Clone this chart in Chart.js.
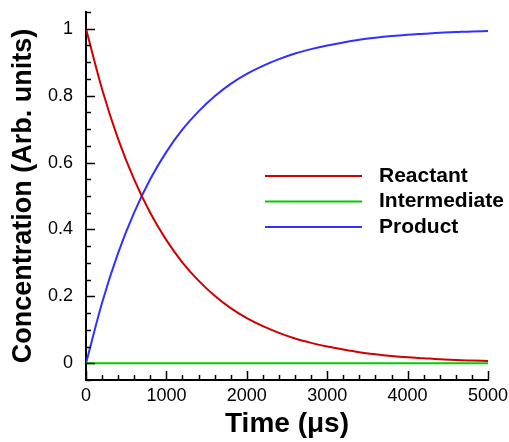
<!DOCTYPE html>
<html>
<head>
<meta charset="utf-8">
<script src="https://cdn.jsdelivr.net/npm/chart.js@4/dist/chart.umd.min.js"></script>
<style>
  body { margin: 0; background: #fff; }
  #wrap { width: 509px; height: 442px; }
</style>
</head>
<body>
<div id="wrap"><canvas id="kinetics" width="509" height="442"></canvas></div>
<script>
// time in microseconds, every 200 us
var times = [0, 200, 400, 600, 800, 1000, 1200, 1400, 1600, 1800, 2000, 2200, 2400,
             2600, 2800, 3000, 3200, 3400, 3600, 3800, 4000, 4200, 4400, 4600, 4800, 5000];
var reactant = [1.000, 0.819, 0.670, 0.549, 0.449, 0.368, 0.301, 0.247, 0.202, 0.165, 0.135, 0.111, 0.091,
                0.074, 0.061, 0.050, 0.041, 0.033, 0.027, 0.022, 0.018, 0.015, 0.012, 0.010, 0.008, 0.007];
var intermediate = [0, 0, 0, 0, 0, 0, 0, 0, 0, 0, 0, 0, 0,
                    0, 0, 0, 0, 0, 0, 0, 0, 0, 0, 0, 0, 0];
var product = [0.000, 0.181, 0.330, 0.451, 0.551, 0.632, 0.699, 0.753, 0.798, 0.835, 0.865, 0.889, 0.909,
               0.926, 0.939, 0.950, 0.959, 0.967, 0.973, 0.978, 0.982, 0.985, 0.988, 0.990, 0.992, 0.993];
var seriesNames = ['Reactant', 'Intermediate', 'Product'];
var xTicks = [0, 1000, 2000, 3000, 4000, 5000];
var yTicks = [0, 0.2, 0.4, 0.6, 0.8, 1];

Chart.defaults.font.family = '"Liberation Sans", Arial, sans-serif';
Chart.defaults.color = '#000';

function pts(ys) {
    return times.map(function (t, i) { return { x: t, y: ys[i] }; });
}

function noPad(s) {
    s.paddingTop = 0; s.paddingBottom = 0; s.paddingLeft = 0; s.paddingRight = 0;
}

// inward major/minor ticks like the original plot
var innerTicks = {
    id: 'innerTicks',
    afterDatasetsDraw: function (chart) {
        var c = chart.ctx, xs = chart.scales.x, ys = chart.scales.y;
        var area = chart.chartArea;
        c.save();
        c.strokeStyle = '#000';
        c.lineWidth = 1.5;
        c.beginPath();
        for (var v = 0; v <= 5000; v += 200) {
            var px = Math.round(xs.getPixelForValue(v)) + 0.5;
            var len = (v % 1000 === 0) ? 9 : 5;
            c.moveTo(px, area.bottom);
            c.lineTo(px, area.bottom - len);
        }
        for (var k = -1; k <= 21; k++) {
            var py = Math.round(ys.getPixelForValue(k * 0.05)) + 0.5;
            var l = (k % 4 === 0) ? 9 : 5;
            c.moveTo(area.left, py);
            c.lineTo(area.left + l, py);
        }
        c.stroke();
        c.restore();
    }
};

// legend placed inside the plot area
var innerLegend = {
    id: 'innerLegend',
    afterDraw: function (chart) {
        var c = chart.ctx;
        c.save();
        c.font = 'bold 21px "Liberation Sans", Arial, sans-serif';
        c.textBaseline = 'middle';
        c.textAlign = 'left';
        chart.data.datasets.forEach(function (ds, i) {
            var y = 176 + i * 25.5;
            c.strokeStyle = ds.borderColor;
            c.lineWidth = 2;
            c.beginPath();
            c.moveTo(265, y);
            c.lineTo(362, y);
            c.stroke();
            c.fillStyle = '#000';
            c.fillText(ds.label, 379, y);
        });
        c.restore();
    }
};

var ctx = document.getElementById('kinetics').getContext('2d');
var chart = new Chart(ctx, {
    type: 'line',
    data: {
        datasets: [{
            label: seriesNames[0],
            data: pts(reactant),
            borderColor: '#d00000',
            borderWidth: 2,
            pointRadius: 0,
            cubicInterpolationMode: 'monotone'
        }, {
            label: seriesNames[1],
            data: pts(intermediate),
            borderColor: '#00cc00',
            borderWidth: 2,
            pointRadius: 0
        }, {
            label: seriesNames[2],
            data: pts(product),
            borderColor: '#3030ff',
            borderWidth: 2,
            pointRadius: 0,
            cubicInterpolationMode: 'monotone'
        }]
    },
    options: {
        responsive: false,
        animation: false,
        layout: { padding: { top: 12, right: 21, left: 0, bottom: 0 } },
        plugins: { legend: { display: false }, tooltip: { enabled: false } },
        scales: {
            x: {
                type: 'linear',
                min: 0,
                max: 5000,
                afterBuildTicks: function (s) { s.ticks = xTicks.map(function (v) { return { value: v }; }); },
                afterFit: function (s) { s.height = 62; noPad(s); },
                grid: { display: false, drawTicks: false },
                border: { display: true, color: '#000', width: 2 },
                ticks: {
                    font: { size: 18 }, padding: 5, maxRotation: 0,
                    callback: function (v) { return String(v); }
                },
                title: {
                    display: true,
                    text: 'Time (\u03bcs)',
                    font: { size: 28, weight: 'bold', lineHeight: 1.2 },
                    padding: { top: 0, bottom: 1 }
                }
            },
            y: {
                type: 'linear',
                min: -0.05,
                max: 1.05,
                afterBuildTicks: function (s) { s.ticks = yTicks.map(function (v) { return { value: v }; }); },
                afterFit: function (s) { s.width = 86; noPad(s); },
                grid: { display: false, drawTicks: false },
                border: { display: true, color: '#000', width: 2 },
                ticks: {
                    font: { size: 18 }, padding: 13,
                    callback: function (v) { return String(v); }
                },
                title: {
                    display: true,
                    text: 'Concentration (Arb. units)',
                    font: { size: 27, weight: 'bold', lineHeight: 1.2 },
                    padding: { top: 7, bottom: 0 }
                }
            }
        }
    },
    plugins: [innerTicks, innerLegend]
});
</script>
</body>
</html>
